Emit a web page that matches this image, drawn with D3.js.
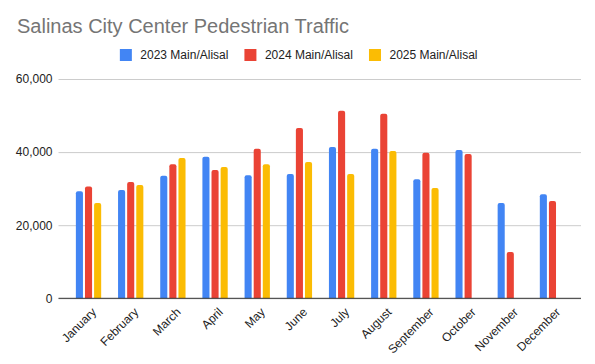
<!DOCTYPE html>
<html>
<head>
<meta charset="utf-8">
<script src="https://cdn.jsdelivr.net/npm/d3@7"></script>
<style>
  html, body { margin: 0; padding: 0; background: #fff; }
  svg { display: block; font-family: "Liberation Sans", Arial, sans-serif; }
</style>
</head>
<body>
<svg id="chart" width="595" height="364"></svg>
<script>
const title = "Salinas City Center Pedestrian Traffic";
const months = ["January","February","March","April","May","June","July","August","September","October","November","December"];
const seriesNames = ["2023 Main/Alisal","2024 Main/Alisal","2025 Main/Alisal"];
const seriesColors = ["#4285f4","#ea4335","#fbbc04"];
const values2023 = [29300, 29600, 33500, 38700, 33700, 34000, 41400, 40900, 32600, 40600, 26100, 28500];
const values2024 = [30600, 31800, 36700, 35100, 40900, 46600, 51300, 50500, 39800, 39500, 12700, 26600];
const values2025 = [26100, 31000, 38400, 35900, 36700, 37300, 34000, 40300, 30200, null, null, null];
const yTicks = [0, 20000, 40000, 60000];

const allSeries = [values2023, values2024, values2025];
const svg = d3.select("#chart");
const W = 595, H = 364;
const plot = {left: 58.5, right: 581, top: 79, bottom: 298.3};

const y = d3.scaleLinear().domain([0, 60000]).range([plot.bottom, plot.top]);
const x0 = d3.scaleBand().domain(months).range([plot.left + 0.5, plot.right + 1]).paddingInner(0.4).paddingOuter(0.4);
const x1 = d3.scaleBand().domain(seriesNames).range([0, x0.bandwidth()]).paddingInner(0.222);

// Title
svg.append("text").attr("x", 17).attr("y", 33)
  .attr("font-size", 20).attr("fill", "#757575").text(title);

// Gridlines + y labels
const yAxis = d3.axisLeft(y).tickValues(yTicks).tickSize(-(plot.right - plot.left)).tickPadding(6)
  .tickFormat(d3.format(","));
const gy = svg.append("g").attr("transform", `translate(${plot.left},0)`).call(yAxis);
gy.select(".domain").remove();
gy.selectAll(".tick line").attr("stroke", "#cccccc").attr("stroke-width", 1);
gy.selectAll(".tick text").attr("font-size", 12).attr("fill", "#222").attr("font-family", "Liberation Sans, Arial, sans-serif");

// Bars
const r = 2;
function barPath(xl, w, yTop, yBot) {
  const rr = Math.min(r, w / 2, (yBot - yTop));
  return `M${xl},${yBot}V${yTop + rr}Q${xl},${yTop} ${xl + rr},${yTop}H${xl + w - rr}Q${xl + w},${yTop} ${xl + w},${yTop + rr}V${yBot}Z`;
}
const gBars = svg.append("g");
months.forEach((m, i) => {
  seriesNames.forEach((s, j) => {
    const v = allSeries[j][i];
    if (v == null) return;
    gBars.append("path")
      .attr("d", barPath(x0(m) + x1(s), x1.bandwidth(), y(v), y(0)))
      .attr("fill", seriesColors[j]);
  });
});

// Baseline
svg.append("line").attr("x1", plot.left).attr("x2", plot.right)
  .attr("y1", y(0)).attr("y2", y(0)).attr("stroke", "#333").attr("stroke-width", 1);

// X labels
const gx = svg.append("g");
months.forEach(m => {
  const cx = x0(m) + x0.bandwidth() / 2;
  gx.append("text")
    .attr("transform", `translate(${cx + 8.5},${plot.bottom + 14.5}) rotate(-45)`)
    .attr("text-anchor", "end").attr("font-size", 12).attr("fill", "#222")
    .text(m);
});

// Legend
const legend = svg.append("g");
const tmp = svg.append("text").attr("font-size", 12).text("");
const textW = seriesNames.map(n => { tmp.text(n); return tmp.node().getComputedTextLength(); });
tmp.remove();
const sq = 12, gap = 8.5, itemGap = 16;
const total = d3.sum(textW) + seriesNames.length * (sq + gap) + itemGap * (seriesNames.length - 1);
let lx = 298.7 - total / 2;
seriesNames.forEach((n, i) => {
  legend.append("rect").attr("x", lx).attr("y", 49).attr("width", sq).attr("height", sq).attr("fill", seriesColors[i]);
  legend.append("text").attr("x", lx + sq + gap).attr("y", 59.3).attr("font-size", 12).attr("fill", "#222").text(n);
  lx += sq + gap + textW[i] + itemGap;
});
</script>
</body>
</html>
